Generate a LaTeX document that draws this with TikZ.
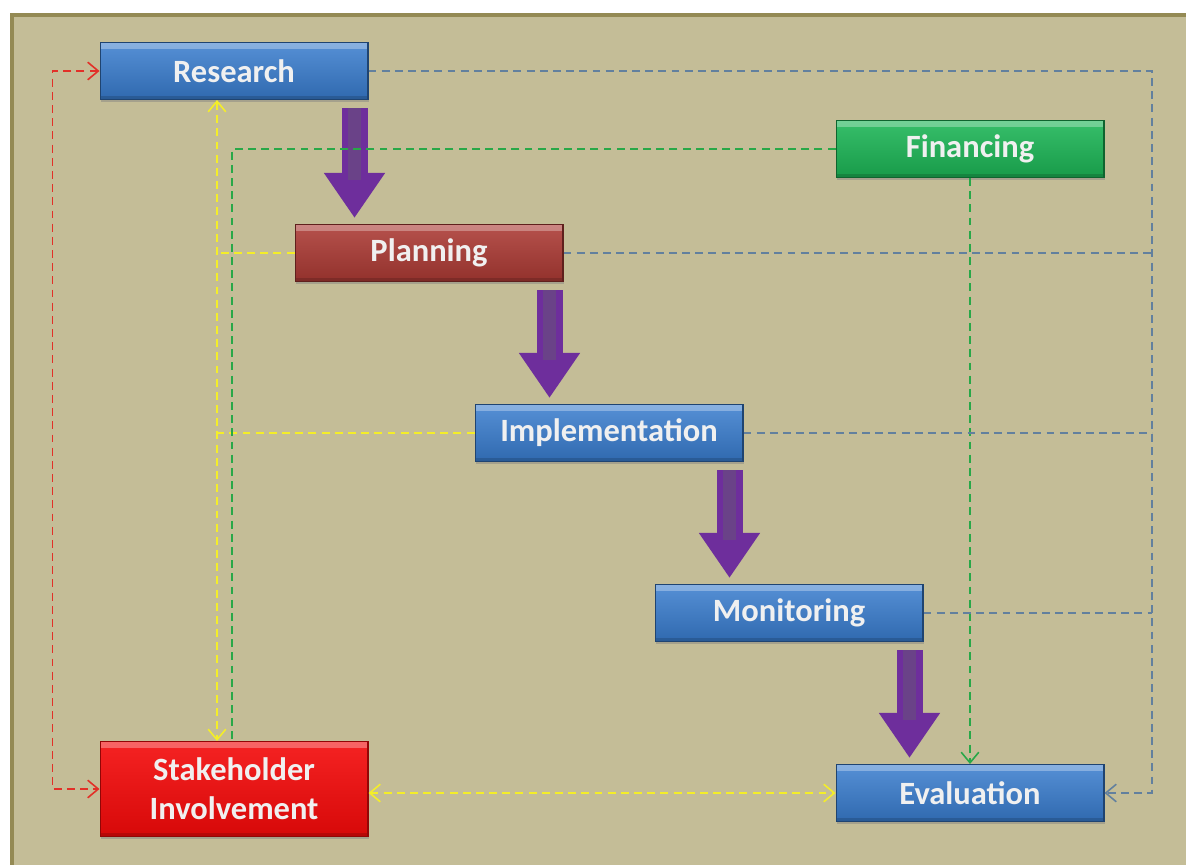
\documentclass[tikz,border=0pt]{standalone}
\usepackage{fontspec}
\setmainfont{Carlito}
\usetikzlibrary{arrows.meta,calc,shadows}

\definecolor{tanbg}{RGB}{196,189,151}
\definecolor{frameolive}{RGB}{148,138,84}
\definecolor{boxblue}{RGB}{56,124,206}
\definecolor{boxbrick}{RGB}{172,58,52}
\definecolor{boxred}{RGB}{244,10,10}
\definecolor{boxgreen}{RGB}{28,182,86}
\definecolor{flowpurple}{RGB}{110,46,156}
\definecolor{flowcore}{RGB}{106,66,136}
\definecolor{linkred}{RGB}{226,48,40}
\definecolor{linkyellow}{RGB}{244,238,40}
\definecolor{linkgreen}{RGB}{40,168,72}
\definecolor{linkgrey}{RGB}{98,128,158}

\tikzset{
  box/.style={rectangle, minimum width=5.36cm, minimum height=1.14cm,
    inner sep=0pt, align=center, text=white!94!black, line width=0.6pt,
    font=\fontsize{18.5}{22}\selectfont\bfseries,
    drop shadow={opacity=0.45, shadow xshift=0.8pt, shadow yshift=-1.6pt},
    path picture={
      \fill[white, opacity=0.3] (path picture bounding box.north west)
        rectangle ([yshift=-3.5pt]path picture bounding box.north east);
      \fill[black, opacity=0.15] (path picture bounding box.south west)
        rectangle ([yshift=2pt]path picture bounding box.south east);}},
  bluebox/.style={box, draw=boxblue!55!black,
    top color=boxblue!85!white, bottom color=boxblue!85!black},
  brickbox/.style={box, draw=boxbrick!55!black,
    top color=boxbrick!88!white, bottom color=boxbrick!85!black},
  redbox/.style={box, draw=boxred!60!black,
    top color=boxred!90!white, bottom color=boxred!88!black},
  greenbox/.style={box, draw=boxgreen!55!black,
    top color=boxgreen!88!white, bottom color=boxgreen!85!black},
  flow/.style={flowpurple, line width=0.52cm,
    -{Triangle[width=1.16cm, length=0.9cm]},
    postaction={draw=flowcore, line width=0.26cm, -, shorten >=0.75cm}},
  link/.style={line width=0.9pt, dash pattern=on 4.5pt off 3pt},
}

\begin{document}
\begin{tikzpicture}[x=0.02cm, y=-0.02cm,
    >={Straight Barb[length=6pt, width=10pt, line width=0.9pt]}]
  \useasboundingbox (0,0) rectangle (1186,865);
  \clip (0,0) rectangle (1186,865);
  \fill[white] (0,0) rectangle (1186,865);
  \draw[frameolive, line width=0.08cm, fill=tanbg] (12,15) rectangle (1230,910);

  % stages
  \node[bluebox] at (234,71) (research) {Research};
  \node[greenbox] at (970,149) (financing) {Financing};
  \node[brickbox] at (429,253) (planning) {Planning};
  \node[bluebox] at (609,433) (implementation) {Implementation};
  \node[bluebox] at (789,613) (monitoring) {Monitoring};
  \node[redbox, minimum height=1.9cm] at (234,789) (stake) {Stakeholder\\Involvement};
  \node[bluebox] at (970,793) (evaluation) {Evaluation};

  % bus lines
  \coordinate (ybus) at (217,0);
  \coordinate (gbus) at (232,0);
  \coordinate (rbus) at (1152,0);

  % main flow
  \draw[flow] ($(research.south east)+(-14,8)$) -- ($(research.south east |- planning.north)+(-14,-6)$);
  \draw[flow] ($(planning.south east)+(-14,8)$) -- ($(planning.south east |- implementation.north)+(-14,-6)$);
  \draw[flow] ($(implementation.south east)+(-14,8)$) -- ($(implementation.south east |- monitoring.north)+(-14,-6)$);
  \draw[flow] ($(monitoring.south east)+(-14,8)$) -- ($(monitoring.south east |- evaluation.north)+(-14,-6)$);

  % stakeholder links
  \draw[link, linkred, <->] (research.west) -- ++(-47,0) |- (stake.west);
  \draw[link, linkyellow, <->] (research.south -| ybus) -- (stake.north -| ybus);
  \draw[link, linkyellow] (planning.west) -- (planning.west -| ybus);
  \draw[link, linkyellow] (implementation.west) -- (implementation.west -| ybus);
  \draw[link, linkyellow, <->] (stake.east |- evaluation.west) -- (evaluation.west);

  % financing links
  \draw[link, linkgreen] (financing.west) -| (stake.north -| gbus);
  \draw[link, linkgreen, ->] (financing.south) -- (evaluation.north);

  % feedback to evaluation
  \draw[link, linkgrey, ->] (research.east) -| (evaluation.east -| rbus) -- (evaluation.east);
  \draw[link, linkgrey] (planning.east) -- (planning.east -| rbus);
  \draw[link, linkgrey] (implementation.east) -- (implementation.east -| rbus);
  \draw[link, linkgrey] (monitoring.east) -- (monitoring.east -| rbus);
\end{tikzpicture}
\end{document}
